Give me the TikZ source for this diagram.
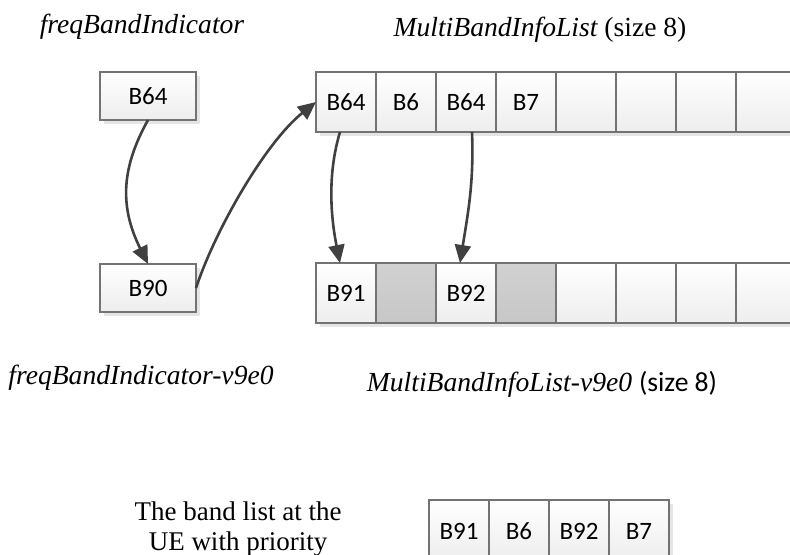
\documentclass[tikz,border=0pt]{standalone}
\usepackage{fontspec}
\setmainfont{Liberation Serif}
\newfontfamily\cellfont{Carlito}
\usetikzlibrary{arrows.meta,positioning,shadows}

\begin{document}
\begin{tikzpicture}[x=0.5pt,y=-0.5pt,>={Triangle[length=9pt,width=8pt]},
cellnode/.style={draw=black!55, line width=0.7pt, top color=white, bottom color=black!7,
  minimum width=30pt, minimum height=30pt, inner sep=0pt, outer sep=0pt,
  font=\cellfont\fontsize{12.5}{15}\selectfont,
  drop shadow={shadow xshift=2pt, shadow yshift=-2pt, fill=black!10, opacity=1}},
graynode/.style={cellnode, top color=black!18, bottom color=black!22},
bandnode/.style={cellnode, minimum width=48pt, minimum height=24pt},
uenode/.style={cellnode, minimum height=31pt},
labelnode/.style={font=\fontsize{13.8}{16}\selectfont\itshape, inner sep=0pt},
link/.style={->, draw=black!75, line width=1.3pt},
]
\useasboundingbox (0,0) rectangle (790,555);
\clip (0,0) rectangle (790,555);

% Labels
\node[labelnode] (lfbi) at (142,27) {freqBandIndicator};
\node[labelnode] (lmbil) at (540,30) {MultiBandInfoList \upshape(size 8)};
\node[labelnode] (lfbiv) at (141,378) {freqBandIndicator-v9e0};
\node[labelnode] (lmbilv) at (542,384) {MultiBandInfoList-v9e0 {\upshape\cellfont(size 8)}};
\node[font=\fontsize{13.5}{15}\selectfont, align=center, inner sep=0pt] (uetext) at (238,529)
  {The band list at the\\UE with priority};

% Band indicators
\node[bandnode] (fbi) at (148,96) {B64};
\node[bandnode] (fbiv) at (148,288) {B90};

% MultiBandInfoList
\node[cellnode] (m1) at (346,102) {B64};
\node[cellnode, right=0pt of m1] (m2) {B6};
\node[cellnode, right=0pt of m2] (m3) {B64};
\node[cellnode, right=0pt of m3] (m4) {B7};
\node[cellnode, right=0pt of m4] (m5) {};
\node[cellnode, right=0pt of m5] (m6) {};
\node[cellnode, right=0pt of m6] (m7) {};
\node[cellnode, right=0pt of m7] (m8) {};

% MultiBandInfoList-v9e0
\node[cellnode] (v1) at (346,293) {B91};
\node[graynode, right=0pt of v1] (v2) {};
\node[cellnode, right=0pt of v2] (v3) {B92};
\node[graynode, right=0pt of v3] (v4) {};
\node[cellnode, right=0pt of v4] (v5) {};
\node[cellnode, right=0pt of v5] (v6) {};
\node[cellnode, right=0pt of v6] (v7) {};
\node[cellnode, right=0pt of v7] (v8) {};

% UE list
\node[uenode] (u1) at (459,531) {B91};
\node[uenode, right=0pt of u1] (u2) {B6};
\node[uenode, right=0pt of u2] (u3) {B92};
\node[uenode, right=0pt of u3] (u4) {B7};

% Links
\draw[link] (fbi.south) .. controls +(-25,45) and +(-30,-60) .. (fbiv.north);
\draw[link] (fbiv.east) .. controls +(20,-60) and +(-50,40) .. (m1.west);
\draw[link] ([xshift=-3pt]m1.south) .. controls +(-12,40) and +(-10,-50) .. ([xshift=-3pt]v1.north);
\draw[link] ([xshift=3pt]m3.south) .. controls +(2,50) and +(8,-50) .. ([xshift=-3pt]v3.north);

\end{tikzpicture}
\end{document}
